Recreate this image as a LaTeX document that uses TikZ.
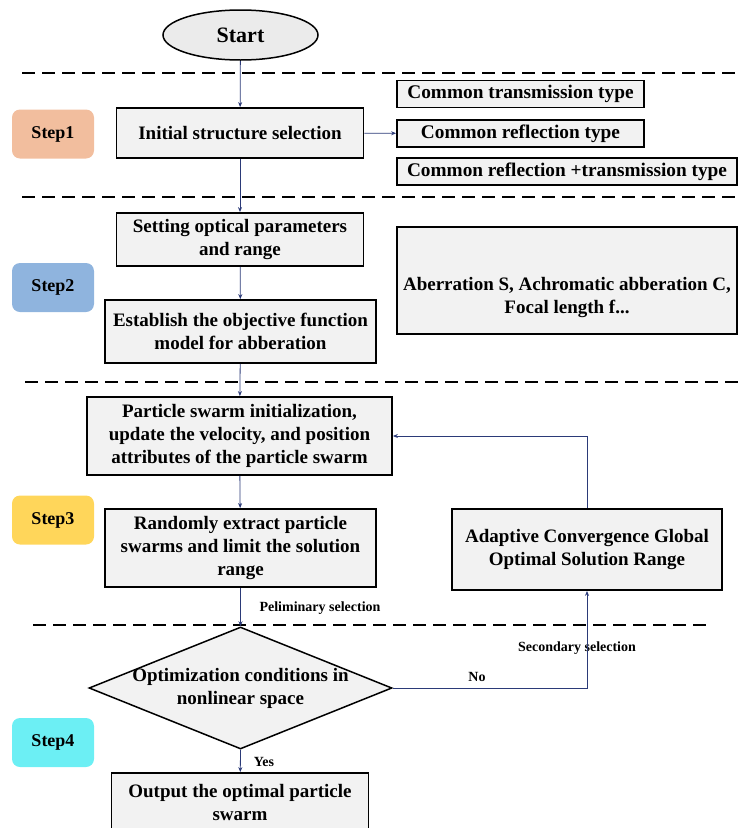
\documentclass[tikz,border=0pt]{standalone}
\usepackage{fontspec}
\setmainfont{Liberation Serif}
\usetikzlibrary{arrows.meta,shapes.geometric}
\definecolor{boxgray}{HTML}{F2F2F2}
\definecolor{startgray}{HTML}{EBEBEB}
\definecolor{flow}{HTML}{2B3A78}
\definecolor{stepa}{HTML}{F2BE9E}
\definecolor{stepb}{HTML}{8FB4DE}
\definecolor{stepc}{HTML}{FFD65A}
\definecolor{stepd}{HTML}{6CEFF4}

\begin{document}
\begin{tikzpicture}[x=1pt,y=-1pt,font=\bfseries\fontsize{19}{23}\selectfont,
 box/.style={draw,line width=1.8pt,fill=boxgray,align=center,inner sep=2pt},
 optbox/.style={box,inner sep=1pt,minimum height=27pt,font=\bfseries\fontsize{19.3}{23}\selectfont},
 steptag/.style={rounded corners=8pt,minimum width=82pt,minimum height=49pt,font=\bfseries\fontsize{18}{21}\selectfont},
 link/.style={flow,line width=.8pt,-{Stealth[length=5pt,width=4pt]}},
 sep/.style={line width=2.5pt,dash pattern=on 13pt off 7pt},
 small/.style={font=\bfseries\fontsize{14}{16}\selectfont}]
 \clip(0,0)rectangle(739,828);
 \draw[sep](22,73)--(739,73);\draw[sep](22,197)--(739,197);
 \draw[sep](25,382)--(739,382);\draw[sep](33,625)--(712,625);
 \node[ellipse,draw,line width=1.5pt,fill=startgray,minimum width=155pt,minimum height=50pt,font=\bfseries\fontsize{22}{26}\selectfont](start)at(240.5,35){Start};
 \node[steptag,fill=stepa](step1)at(53,134){Step1};
 \node[steptag,fill=stepb](step2)at(53,287.5){Step2};
 \node[steptag,fill=stepc](step3)at(53,520){Step3};
 \node[steptag,fill=stepd](step4)at(53,742.5){Step4};
 \node[box,minimum width=247pt,minimum height=50pt](init)at(240,133){Initial structure selection};
 \node[optbox,minimum width=247pt](opt1)at(520.5,94){Common transmission type};
 \node[optbox,minimum width=247pt](opt2)at(520.5,133.5){Common reflection type};
 \node[optbox,minimum width=340pt](opt3)at(567,171.5){Common reflection +transmission type};
 \node[box,minimum width=247pt,minimum height=53pt](setting)at(240,239.5){Setting optical parameters\\and range};
 \node[box,minimum width=271pt,minimum height=63pt](establish)at(240.5,331.5){Establish the objective function\\model for abberation};
 \node[box,minimum width=340pt,minimum height=107pt](aberr)at(567,280.5){};
 \node[align=center](aberrtxt)at(567,297){Aberration S, Achromatic abberation C,\\Focal length f...};
 \node[box,minimum width=305pt,minimum height=78pt](swarm)at(239.5,436){Particle swarm initialization,\\update the velocity, and position\\attributes of the particle swarm};
 \node[box,minimum width=271pt,minimum height=78pt](random)at(240.5,548){Randomly extract particle\\swarms and limit the solution\\range};
 \node[box,minimum width=270pt,minimum height=81pt](adapt)at(587,549.5){Adaptive Convergence Global\\Optimal Solution Range};
 \node[diamond,draw,line width=1.5pt,fill=boxgray,minimum width=303pt,minimum height=122pt,inner sep=0pt](decide)at(240.5,688){};
 \node[align=center](decidetxt)at(240.5,688.5){Optimization conditions in\\nonlinear space};
 \node[box,minimum width=257pt,minimum height=58pt](output)at(240,802){Output the optimal particle\\swarm};
 \node[small,anchor=west](prelim)at(256,608){Peliminary selection};
 \node[small](second)at(577,648){Secondary selection};
 \node[small](no)at(477,677){No};
 \node[small](yes)at(264,762){Yes};
 \draw[link](start)--(init);\draw[link](init)--(opt2);
 \draw[link](init)--(setting);\draw[link](setting)--(establish);
 \draw[link](establish)--(swarm);\draw[link](swarm)--(random);
 \draw[link](random)--(decide.north);\draw[link](decide.south)--(output);
 \draw[link](decide.east)-|(adapt.south);\draw[link](adapt.north)|-(swarm.east);
\end{tikzpicture}
\end{document}
